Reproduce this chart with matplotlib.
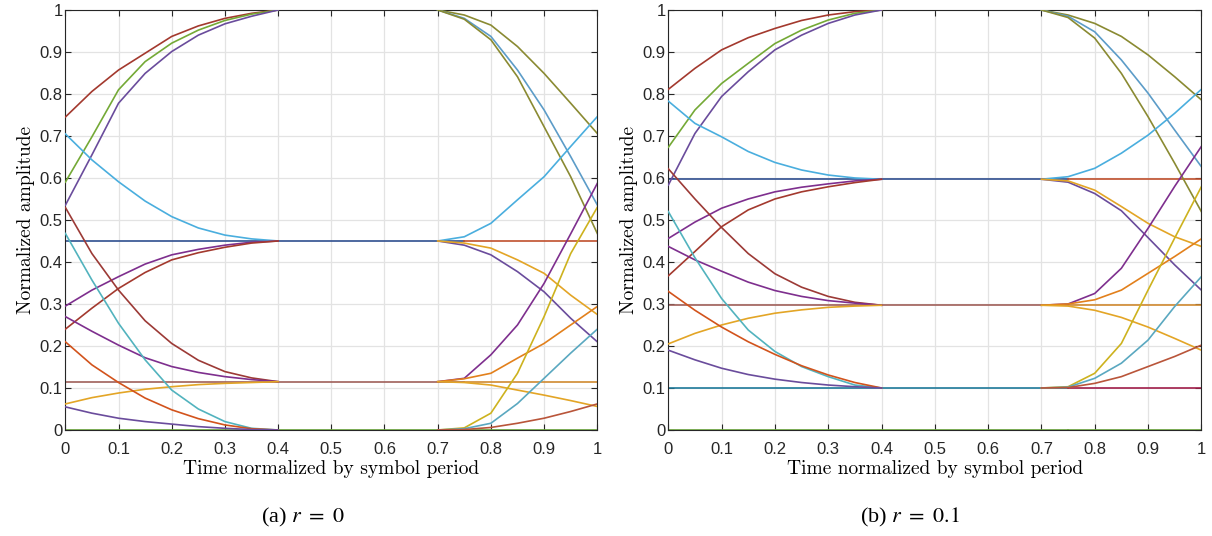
import matplotlib
import matplotlib.pyplot as plt
import numpy as np
from matplotlib.ticker import FuncFormatter, MultipleLocator

matplotlib.use("Agg")
plt.rcParams["font.family"] = ["Liberation Sans", "DejaVu Sans"]

# sample times for the converging (start of symbol) and diverging (end of symbol) parts
X_RISE = [0.0, 0.05, 0.1, 0.15, 0.2, 0.25, 0.3, 0.35, 0.4]
X_FALL = [0.7, 0.75, 0.8, 0.85, 0.9, 0.95, 1.0]

# ---- r = 0 ----
LEVELS_R0 = [1.0, 0.45, 0.115, 0.0]
RISE_R0 = [
    [0.745, 0.806, 0.857, 0.897, 0.937, 0.962, 0.980, 0.992, 1.0],
    [0.590, 0.698, 0.810, 0.877, 0.921, 0.952, 0.975, 0.990, 1.0],
    [0.535, 0.655, 0.778, 0.849, 0.901, 0.940, 0.967, 0.985, 1.0],
    [0.705, 0.643, 0.591, 0.545, 0.508, 0.481, 0.464, 0.455, 0.45],
    [0.295, 0.333, 0.365, 0.395, 0.417, 0.430, 0.440, 0.447, 0.45],
    [0.240, 0.290, 0.337, 0.375, 0.405, 0.422, 0.435, 0.445, 0.45],
    [0.530, 0.420, 0.333, 0.260, 0.206, 0.166, 0.139, 0.124, 0.115],
    [0.270, 0.235, 0.202, 0.172, 0.151, 0.137, 0.127, 0.120, 0.115],
    [0.062, 0.077, 0.088, 0.097, 0.103, 0.108, 0.111, 0.113, 0.115],
    [0.468, 0.357, 0.254, 0.167, 0.095, 0.050, 0.020, 0.004, 0.0],
    [0.210, 0.155, 0.113, 0.076, 0.048, 0.027, 0.012, 0.003, 0.0],
    [0.055, 0.040, 0.028, 0.020, 0.014, 0.008, 0.004, 0.001, 0.0],
]
FALL_R0 = [
    [1.0, 0.988, 0.964, 0.913, 0.849, 0.778, 0.706],
    [1.0, 0.980, 0.937, 0.857, 0.762, 0.651, 0.536],
    [1.0, 0.978, 0.929, 0.841, 0.722, 0.603, 0.468],
    [0.45, 0.460, 0.492, 0.548, 0.603, 0.675, 0.746],
    [0.45, 0.440, 0.417, 0.377, 0.329, 0.266, 0.210],
    [0.45, 0.445, 0.433, 0.405, 0.373, 0.321, 0.275],
    [0.115, 0.123, 0.179, 0.250, 0.349, 0.467, 0.587],
    [0.115, 0.122, 0.135, 0.171, 0.206, 0.250, 0.294],
    [0.115, 0.113, 0.107, 0.095, 0.083, 0.070, 0.056],
    [0.0, 0.005, 0.040, 0.135, 0.270, 0.420, 0.530],
    [0.0, 0.003, 0.016, 0.063, 0.123, 0.183, 0.240],
    [0.0, 0.001, 0.006, 0.016, 0.028, 0.044, 0.062],
]

# ---- r = 0.1 ----
LEVELS_R01 = [1.0, 0.597, 0.297, 0.1, 0.0]
RISE_R01 = [
    [0.811, 0.861, 0.905, 0.934, 0.956, 0.975, 0.988, 0.996, 1.0],
    [0.673, 0.762, 0.825, 0.873, 0.920, 0.952, 0.976, 0.992, 1.0],
    [0.583, 0.706, 0.794, 0.853, 0.905, 0.940, 0.968, 0.988, 1.0],
    [0.783, 0.730, 0.698, 0.663, 0.637, 0.619, 0.607, 0.600, 0.597],
    [0.456, 0.495, 0.528, 0.550, 0.567, 0.578, 0.586, 0.593, 0.597],
    [0.367, 0.425, 0.484, 0.524, 0.550, 0.567, 0.579, 0.589, 0.597],
    [0.622, 0.550, 0.482, 0.420, 0.372, 0.340, 0.318, 0.304, 0.297],
    [0.437, 0.405, 0.378, 0.352, 0.332, 0.318, 0.308, 0.302, 0.297],
    [0.205, 0.230, 0.250, 0.266, 0.278, 0.286, 0.292, 0.295, 0.297],
    [0.520, 0.410, 0.313, 0.238, 0.187, 0.151, 0.127, 0.107, 0.1],
    [0.330, 0.285, 0.245, 0.210, 0.180, 0.153, 0.131, 0.113, 0.1],
    [0.190, 0.167, 0.147, 0.132, 0.121, 0.113, 0.107, 0.103, 0.1],
]
FALL_R01 = [
    [1.0, 0.988, 0.968, 0.937, 0.893, 0.841, 0.786],
    [1.0, 0.985, 0.948, 0.881, 0.802, 0.714, 0.627],
    [1.0, 0.982, 0.933, 0.849, 0.746, 0.635, 0.520],
    [0.597, 0.603, 0.623, 0.659, 0.702, 0.754, 0.811],
    [0.597, 0.590, 0.563, 0.522, 0.458, 0.393, 0.333],
    [0.597, 0.593, 0.571, 0.532, 0.492, 0.460, 0.437],
    [0.297, 0.300, 0.325, 0.385, 0.480, 0.580, 0.675],
    [0.297, 0.300, 0.310, 0.333, 0.373, 0.413, 0.455],
    [0.297, 0.295, 0.285, 0.268, 0.245, 0.218, 0.190],
    [0.1, 0.103, 0.135, 0.206, 0.333, 0.457, 0.579],
    [0.1, 0.102, 0.123, 0.159, 0.214, 0.294, 0.365],
    [0.1, 0.101, 0.111, 0.127, 0.151, 0.175, 0.202],
]

# line colours (MATLAB-ish palette, as the overlapping traces appear)
RED = "#A3392E"
GREEN = "#74A936"
PURPLE = "#6A4C9C"
MAGENTA = "#7E2F8E"
LIGHTBLUE = "#4AAEDE"
CYAN = "#52B3BE"
ORANGE_RED = "#D2531C"
GOLD = "#E3A526"
YELLOW = "#CDB21E"
OLIVE = "#8A8A32"
BLUEGRAY = "#5C9CC8"
BROWN = "#B9553A"
ORANGE = "#E2801C"

RISE_COLORS = [RED, GREEN, PURPLE, LIGHTBLUE, MAGENTA, RED,
               "#9C3A36", MAGENTA, GOLD, CYAN, ORANGE_RED, PURPLE]
FALL_COLORS = [OLIVE, BLUEGRAY, OLIVE, LIGHTBLUE, PURPLE, GOLD,
               MAGENTA, ORANGE, GOLD, YELLOW, "#5AA8C0", BROWN]

FLAT_LEFT_R0 = ["#B4735A", "#2F4F8F", "#A0605A", "#6AA63A"]
FLAT_RIGHT_R0 = ["#2E7FA8", "#C0502D", "#D08A30", "#6AA63A"]
FLAT_LEFT_R01 = ["#B4735A", "#2F4F8F", "#A0605A", "#1F7A9A", "#6AA63A"]
FLAT_RIGHT_R01 = ["#2E7FA8", "#C0502D", "#D08A30", "#A01E4A", "#6AA63A"]

X_SPLIT = 0.75
LW = 1.2


def plot_eye(ax, levels, rise, fall, flat_left, flat_right):
    """Draw one eye diagram panel."""
    for lev, cl, cr in zip(levels, flat_left, flat_right):
        ax.plot([0, X_SPLIT], [lev, lev], color=cl, lw=LW, zorder=2)
        ax.plot([X_SPLIT, 1], [lev, lev], color=cr, lw=LW, zorder=2)
    for ys, c in zip(rise, RISE_COLORS):
        ax.plot(X_RISE, ys, color=c, lw=LW, zorder=3)
    for ys, c in zip(fall, FALL_COLORS):
        ax.plot(X_FALL, ys, color=c, lw=LW, zorder=3)

    ax.set_xlim(0, 1)
    ax.set_ylim(0, 1)
    fmt = FuncFormatter(lambda v, p: f"{v:g}")
    for axis in (ax.xaxis, ax.yaxis):
        axis.set_major_locator(MultipleLocator(0.1))
        axis.set_major_formatter(fmt)
    ax.grid(True, color="#e3e3e3", lw=0.9, zorder=0)
    ax.set_axisbelow(True)
    ax.tick_params(direction="in", top=True, right=True, length=4.5,
                   width=0.8, color="#262626", labelsize=12,
                   labelcolor="#262626")
    ax.tick_params(axis="x", pad=9)
    ax.tick_params(axis="y", pad=2)
    for sp in ax.spines.values():
        sp.set_color("#262626")
        sp.set_linewidth(0.8)
    ax.set_xlabel("Time normalized by symbol period", family="cmr10",
                  fontsize=14, labelpad=2)
    ax.set_ylabel("Normalized amplitude", family="cmr10", fontsize=14,
                  labelpad=3)


fig = plt.figure(figsize=(12.12, 5.36), dpi=100)
ax1 = fig.add_axes([0.0539, 0.1978, 0.4389, 0.7836])
ax2 = fig.add_axes([0.5514, 0.1978, 0.4398, 0.7836])

plot_eye(ax1, LEVELS_R0, RISE_R0, FALL_R0, FLAT_LEFT_R0, FLAT_RIGHT_R0)
plot_eye(ax2, LEVELS_R01, RISE_R01, FALL_R01, FLAT_LEFT_R01, FLAT_RIGHT_R01)

fig.text(0.25, 0.034, r"(a) $r\ =\ 0$", ha="center", va="center",
         family="Liberation Serif", math_fontfamily="stix", fontsize=16)
fig.text(0.751, 0.034, r"(b) $r\ =\ 0.1$", ha="center", va="center",
         family="Liberation Serif", math_fontfamily="stix", fontsize=16)

fig.savefig("out.png", dpi=100)
